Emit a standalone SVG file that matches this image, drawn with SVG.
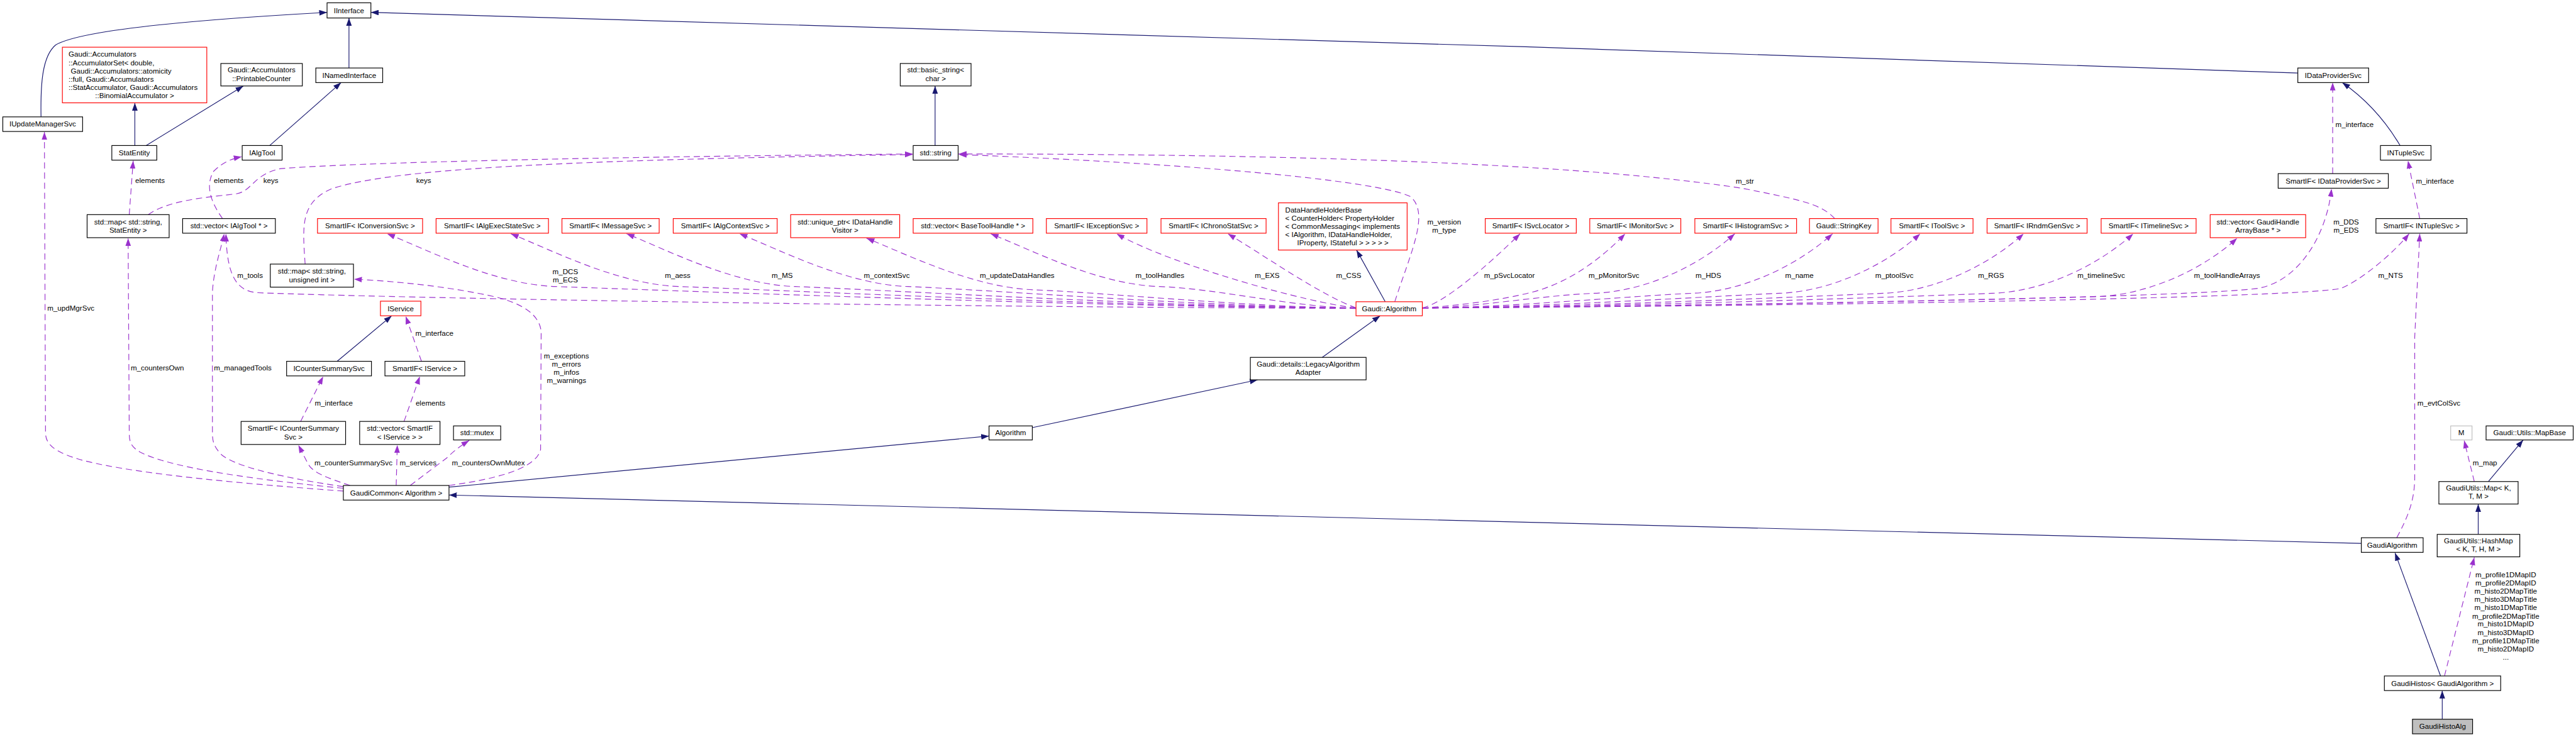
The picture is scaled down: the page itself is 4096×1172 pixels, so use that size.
<svg xmlns="http://www.w3.org/2000/svg" width="4096" height="1172" viewBox="0 0 4096 1172">
<style>
.b{fill:#fff;stroke:#000;stroke-width:1.3}
.r{fill:#fff;stroke:#f00;stroke-width:1.3}
.g{fill:#fff;stroke:#bfbfbf;stroke-width:1.3}
.f{fill:#bfbfbf;stroke:#000;stroke-width:1.3}
text{font-family:"Liberation Sans",Arial,Helvetica,sans-serif;font-size:13px;text-anchor:middle;fill:#000}
text.l{text-anchor:start}
.ih{fill:none;stroke:#191970;stroke-width:1.3;marker-end:url(#ah)}
.us{fill:none;stroke:#9a32cd;stroke-width:1.3;stroke-dasharray:11,7;marker-end:url(#au)}
</style>
<defs>
<marker id="ah" markerUnits="userSpaceOnUse" markerWidth="14" markerHeight="10" refX="14" refY="5" orient="auto" viewBox="0 0 14 10"><path d="M0,0L14,5L0,10z" fill="#191970" stroke="none"/></marker>
<marker id="au" markerUnits="userSpaceOnUse" markerWidth="14" markerHeight="10" refX="14" refY="5" orient="auto" viewBox="0 0 14 10"><path d="M0,0L14,5L0,10z" fill="#9a32cd" stroke="none"/></marker>
</defs>
<rect width="4096" height="1172" fill="#fff"/>
<g transform="scale(0.89354)">
<g id="connectors">
<path class="ih" d="M73,208 C72,150 75,100 99,80 C150,50 400,32 582,22"/>
<path class="ih" d="M240,259 L240,183"/>
<path class="ih" d="M260,259 L433,153"/>
<path class="ih" d="M480,259 L607,147"/>
<path class="ih" d="M621,121 L621,32"/>
<path class="ih" d="M4089,130 C3000,90 1500,45 660,22"/>
<path class="ih" d="M4271,259 Q4230,190 4168,147"/>
<path class="ih" d="M1664,259 L1664,153"/>
<path class="ih" d="M600,643 L697,562"/>
<path class="ih" d="M2465,537 L2414,445"/>
<path class="ih" d="M2353,636 L2456,562"/>
<path class="ih" d="M1837,761 L2238,676"/>
<path class="ih" d="M799,867 L1760,776"/>
<path class="ih" d="M4202,967 C3200,940 2000,905 799,881"/>
<path class="ih" d="M4343,1203 L4262,984"/>
<path class="ih" d="M4346,1280 L4346,1229"/>
<path class="ih" d="M4428,857 L4490,783"/>
<path class="ih" d="M4410,951 L4410,897"/>

<path class="us" d="M611,874 C450,862 250,845 150,820 C95,805 81,790 81,770 L79,235"/>
<path class="us" d="M611,869 C420,850 300,830 250,805 C232,795 230,785 230,770 L228,424"/>
<path class="us" d="M611,866 C500,850 420,830 395,810 C380,795 378,785 378,770 L378,520 C380,480 394,440 399,416"/>
<path class="us" d="M230,382 L237,286"/>
<path class="us" d="M396,389 C375,360 365,330 380,305 C395,290 410,283 430,279"/>
<path class="us" d="M264,382 C300,355 380,350 420,345 C450,340 450,310 500,300 C700,285 1300,277 1624,274"/>
<path class="us" d="M543,470 C538,400 535,360 590,336 C700,300 1000,285 1624,275"/>
<path class="us" d="M2482,537 C2510,450 2545,380 2510,350 C2450,320 2100,290 1706,275"/>
<path class="us" d="M3265,389 C3240,362 3200,355 3100,335 C2800,290 2300,274 1706,274"/>
<path class="us" d="M2413,549 C1500,545 700,530 460,521 C420,519 404,490 402,416"/>
<path class="us" d="M2413,548 C1986,548 1089,513 989,510 C879,506 764,446 689,416"/>
<path class="us" d="M2413,548 C2052,548 1309,513 1209,510 C1099,506 984,446 909,416"/>
<path class="us" d="M2413,548 C2114,548 1515,513 1415,510 C1305,506 1190,446 1115,416"/>
<path class="us" d="M2413,548 C2174,548 1716,513 1616,510 C1506,506 1391,446 1316,416"/>
<path class="us" d="M2413,548 C2242,548 1942,519 1842,516 C1732,512 1617,454 1542,424"/>
<path class="us" d="M2413,548 C2308,548 2163,513 2063,510 C1953,506 1838,446 1763,416"/>
<path class="us" d="M2413,548 C2330,540 2080,470 1987,416"/>
<path class="us" d="M2413,548 C2350,525 2250,455 2185,416"/>
<path class="us" d="M2531,548 C2570,540 2650,470 2705,416"/>
<path class="us" d="M2531,548 C2600,544 2680,532 2722,521 C2790,505 2850,460 2892,416"/>
<path class="us" d="M2531,548 C2623,548 2737,526 2837,522 C2937,518 3032,466 3087,416"/>
<path class="us" d="M2531,548 C2675,548 2911,526 3011,522 C3111,518 3206,466 3261,416"/>
<path class="us" d="M2531,548 C2722,548 3067,526 3167,522 C3267,518 3362,466 3417,416"/>
<path class="us" d="M2531,548 C2777,548 3251,526 3351,522 C3451,518 3546,466 3601,416"/>
<path class="us" d="M2531,548 C2836,548 3446,526 3546,522 C3646,518 3741,466 3796,416"/>
<path class="us" d="M2531,548 C2891,548 3631,531 3731,528 C3831,524 3926,474 3981,424"/>
<path class="us" d="M2531,548 C3000,545 3900,530 4019,513 C4090,500 4140,420 4149,336"/>
<path class="us" d="M2531,548 C3200,545 4100,530 4166,513 C4200,500 4260,450 4287,416"/>
<path class="us" d="M4151,309 L4151,147"/>
<path class="us" d="M4306,389 L4285,286"/>
<path class="us" d="M4265,957 C4285,920 4297,890 4297,850 L4297,600 L4306,416"/>
<path class="us" d="M4403,857 L4385,784"/>
<path class="us" d="M4350,1203 L4403,992"/>
<path class="us" d="M750,643 L722,563"/>
<path class="us" d="M719,750 L747,670"/>
<path class="us" d="M623,864 C580,850 555,840 548,825 C540,810 535,800 531,792"/>
<path class="us" d="M705,864 L707,792"/>
<path class="us" d="M730,864 C755,845 775,830 795,815 C810,800 825,790 835,784"/>
<path class="us" d="M535,750 L575,670"/>
<path class="us" d="M799,864 C900,850 955,830 962,800 L963,590 C960,560 930,540 880,528 C800,510 700,500 630,497"/>

<text x="126" y="553">m_updMgrSvc</text>
<text x="280" y="659">m_countersOwn</text>
<text x="432" y="659">m_managedTools</text>
<text x="267" y="326">elements</text>
<text x="407" y="326">elements</text>
<text x="482" y="326">keys</text>
<text x="754" y="326">keys</text>
<text x="445" y="495">m_tools</text>
<text x="1006" y="488">m_DCS</text>
<text x="1006" y="502">m_ECS</text>
<text x="1206" y="495">m_aess</text>
<text x="1392" y="495">m_MS</text>
<text x="1578" y="495">m_contextSvc</text>
<text x="1810" y="495">m_updateDataHandles</text>
<text x="2064" y="495">m_toolHandles</text>
<text x="2255" y="495">m_EXS</text>
<text x="2400" y="495">m_CSS</text>
<text x="2570" y="400">m_version</text>
<text x="2570" y="414">m_type</text>
<text x="2686" y="495">m_pSvcLocator</text>
<text x="2872" y="495">m_pMonitorSvc</text>
<text x="3040" y="495">m_HDS</text>
<text x="3202" y="495">m_name</text>
<text x="3371" y="495">m_ptoolSvc</text>
<text x="3543" y="495">m_RGS</text>
<text x="3739" y="495">m_timelineSvc</text>
<text x="3963" y="495">m_toolHandleArrays</text>
<text x="4175" y="400">m_DDS</text>
<text x="4175" y="414">m_EDS</text>
<text x="4254" y="495">m_NTS</text>
<text x="3105" y="327">m_str</text>
<text x="4190" y="226">m_interface</text>
<text x="4333" y="327">m_interface</text>
<text x="4340" y="722">m_evtColSvc</text>
<text x="4422" y="828">m_map</text>
<text x="4459" y="1027">m_profile1DMapID</text>
<text x="4459" y="1042">m_profile2DMapID</text>
<text x="4459" y="1057">m_histo2DMapTitle</text>
<text x="4459" y="1071">m_histo3DMapTitle</text>
<text x="4459" y="1086">m_histo1DMapTitle</text>
<text x="4459" y="1101">m_profile2DMapTitle</text>
<text x="4459" y="1115">m_histo1DMapID</text>
<text x="4459" y="1130">m_histo3DMapID</text>
<text x="4459" y="1145">m_profile1DMapTitle</text>
<text x="4459" y="1159">m_histo2DMapID</text>
<text x="4459" y="1174">...</text>
<text x="773" y="598">m_interface</text>
<text x="1008" y="638">m_exceptions</text>
<text x="1008" y="652">m_errors</text>
<text x="1008" y="667">m_infos</text>
<text x="1008" y="682">m_warnings</text>
<text x="629" y="828">m_counterSummarySvc</text>
<text x="744" y="828">m_services</text>
<text x="869" y="828">m_countersOwnMutex</text>
<text x="594" y="722">m_interface</text>
<text x="766" y="722">elements</text>
</g>

<g id="IInterface"><rect class="b" x="582" y="5" width="78" height="27"/><text x="621" y="23">IInterface</text></g>
<g id="IUpdateManagerSvc"><rect class="b" x="5" y="208" width="142" height="26"/><text x="76" y="225.5">IUpdateManagerSvc</text></g>
<g id="AccumulatorSet"><rect class="r" x="111" y="84" width="257" height="99"/>
<text class="l" x="122" y="101">Gaudi::Accumulators</text>
<text class="l" x="122" y="116">::AccumulatorSet&lt; double,</text>
<text class="l" x="126" y="131"> Gaudi::Accumulators::atomicity</text>
<text class="l" x="122" y="145">::full, Gaudi::Accumulators</text>
<text class="l" x="122" y="160">::StatAccumulator, Gaudi::Accumulators</text>
<text x="239.5" y="175">::BinomialAccumulator &gt;</text></g>
<g id="PrintableCounter"><rect class="b" x="393" y="113" width="145" height="40"/><text x="465.5" y="129">Gaudi::Accumulators</text><text x="465.5" y="144">::PrintableCounter</text></g>
<g id="INamedInterface"><rect class="b" x="562" y="121" width="119" height="26"/><text x="621.5" y="138.5">INamedInterface</text></g>
<g id="StatEntity"><rect class="b" x="199" y="259" width="80" height="26"/><text x="239" y="276.5">StatEntity</text></g>
<g id="IAlgTool"><rect class="b" x="431" y="259" width="71" height="26"/><text x="466.5" y="276.5">IAlgTool</text></g>
<g id="MapStatEntity"><rect class="b" x="155" y="382" width="146" height="41"/><text x="228" y="399">std::map&lt; std::string,</text><text x="228" y="414">StatEntity &gt;</text></g>
<g id="VectorIAlgTool"><rect class="b" x="325" y="389" width="165" height="26"/><text x="407.5" y="406.5">std::vector&lt; IAlgTool * &gt;</text></g>
<g id="SmartIFIConversionSvc"><rect class="r" x="565" y="389" width="187" height="26"/><text x="658.5" y="406.5">SmartIF&lt; IConversionSvc &gt;</text></g>
<g id="SmartIFIAlgExecStateSvc"><rect class="r" x="776" y="389" width="200" height="26"/><text x="876" y="406.5">SmartIF&lt; IAlgExecStateSvc &gt;</text></g>
<g id="SmartIFIMessageSvc"><rect class="r" x="1000" y="389" width="173" height="26"/><text x="1086.5" y="406.5">SmartIF&lt; IMessageSvc &gt;</text></g>
<g id="MapUnsigned"><rect class="b" x="481" y="470" width="148" height="41"/><text x="555" y="487">std::map&lt; std::string,</text><text x="555" y="502">unsigned int &gt;</text></g>
<g id="IService"><rect class="r" x="677" y="536" width="72" height="26"/><text x="713" y="553.5">IService</text></g>
<g id="ICounterSummarySvc"><rect class="b" x="510" y="643" width="151" height="26"/><text x="585.5" y="660.5">ICounterSummarySvc</text></g>
<g id="SmartIFIService"><rect class="b" x="685" y="643" width="142" height="26"/><text x="756" y="660.5">SmartIF&lt; IService &gt;</text></g>
<g id="SmartIFICounterSummarySvc"><rect class="b" x="429" y="750" width="186" height="41"/><text x="522" y="767">SmartIF&lt; ICounterSummary</text><text x="522" y="782">Svc &gt;</text></g>
<g id="VectorSmartIFIService"><rect class="b" x="640" y="750" width="143" height="41"/><text x="711.5" y="767">std::vector&lt; SmartIF</text><text x="711.5" y="782">&lt; IService &gt; &gt;</text></g>
<g id="StdMutex"><rect class="b" x="807" y="758" width="84" height="25"/><text x="849" y="775">std::mutex</text></g>
<g id="GaudiCommonAlgorithm"><rect class="b" x="611" y="864" width="188" height="26"/><text x="705" y="881.5">GaudiCommon&lt; Algorithm &gt;</text></g>
<g id="Algorithm"><rect class="b" x="1760" y="758" width="77" height="25"/><text x="1798.5" y="775">Algorithm</text></g>
<g id="LegacyAlgorithmAdapter"><rect class="b" x="2225" y="636" width="206" height="40"/><text x="2328" y="652">Gaudi::details::LegacyAlgorithm</text><text x="2328" y="667">Adapter</text></g>
<g id="BasicString"><rect class="b" x="1602" y="113" width="126" height="40"/><text x="1665" y="129">std::basic_string&lt;</text><text x="1665" y="144">char &gt;</text></g>
<g id="StdString"><rect class="b" x="1625" y="259" width="80" height="26"/><text x="1665" y="276.5">std::string</text></g>
<g id="SmartIFIAlgContextSvc"><rect class="r" x="1198" y="389" width="185" height="26"/><text x="1290.5" y="406.5">SmartIF&lt; IAlgContextSvc &gt;</text></g>
<g id="UniquePtrVisitor"><rect class="r" x="1407" y="382" width="194" height="41"/><text x="1504" y="399">std::unique_ptr&lt; IDataHandle</text><text x="1504" y="414">Visitor &gt;</text></g>
<g id="VectorBaseToolHandle"><rect class="r" x="1625" y="389" width="213" height="26"/><text x="1731.5" y="406.5">std::vector&lt; BaseToolHandle * &gt;</text></g>
<g id="SmartIFIExceptionSvc"><rect class="r" x="1862" y="389" width="179" height="26"/><text x="1951.5" y="406.5">SmartIF&lt; IExceptionSvc &gt;</text></g>
<g id="SmartIFIChronoStatSvc"><rect class="r" x="2066" y="389" width="187" height="26"/><text x="2159.5" y="406.5">SmartIF&lt; IChronoStatSvc &gt;</text></g>
<g id="DataHandleHolderBase"><rect class="r" x="2275" y="361" width="229" height="84"/>
<text class="l" x="2287" y="378">DataHandleHolderBase</text>
<text class="l" x="2287" y="393">&lt; CounterHolder&lt; PropertyHolder</text>
<text class="l" x="2287" y="407.5">&lt; CommonMessaging&lt; implements</text>
<text class="l" x="2287" y="422">&lt; IAlgorithm, IDataHandleHolder,</text>
<text x="2389.5" y="437">IProperty, IStateful &gt; &gt; &gt; &gt; &gt;</text></g>
<g id="GaudiAlgorithmBase"><rect class="r" x="2413" y="537" width="118" height="25"/><text x="2472" y="554">Gaudi::Algorithm</text></g>
<g id="SmartIFISvcLocator"><rect class="r" x="2643" y="389" width="162" height="26"/><text x="2724" y="406.5">SmartIF&lt; ISvcLocator &gt;</text></g>
<g id="SmartIFIMonitorSvc"><rect class="r" x="2829" y="389" width="162" height="26"/><text x="2910" y="406.5">SmartIF&lt; IMonitorSvc &gt;</text></g>
<g id="SmartIFIHistogramSvc"><rect class="r" x="3016" y="389" width="181" height="26"/><text x="3106.5" y="406.5">SmartIF&lt; IHistogramSvc &gt;</text></g>
<g id="StringKey"><rect class="r" x="3220" y="389" width="122" height="26"/><text x="3281" y="406.5">Gaudi::StringKey</text></g>
<g id="SmartIFIToolSvc"><rect class="r" x="3365" y="389" width="146" height="26"/><text x="3438" y="406.5">SmartIF&lt; IToolSvc &gt;</text></g>
<g id="SmartIFIRndmGenSvc"><rect class="r" x="3536" y="389" width="178" height="26"/><text x="3625" y="406.5">SmartIF&lt; IRndmGenSvc &gt;</text></g>
<g id="SmartIFITimelineSvc"><rect class="r" x="3739" y="389" width="169" height="26"/><text x="3823.5" y="406.5">SmartIF&lt; ITimelineSvc &gt;</text></g>
<g id="VectorGaudiHandleArrayBase"><rect class="r" x="3933" y="382" width="170" height="41"/><text x="4018" y="399">std::vector&lt; GaudiHandle</text><text x="4018" y="414">ArrayBase * &gt;</text></g>
<g id="IDataProviderSvc"><rect class="b" x="4089" y="121" width="126" height="26"/><text x="4152" y="138.5">IDataProviderSvc</text></g>
<g id="INTupleSvc"><rect class="b" x="4236" y="259" width="90" height="26"/><text x="4281" y="276.5">INTupleSvc</text></g>
<g id="SmartIFIDataProviderSvc"><rect class="b" x="4054" y="309" width="196" height="26"/><text x="4152" y="326.5">SmartIF&lt; IDataProviderSvc &gt;</text></g>
<g id="SmartIFINTupleSvc"><rect class="b" x="4228" y="389" width="162" height="26"/><text x="4309" y="406.5">SmartIF&lt; INTupleSvc &gt;</text></g>
<g id="M"><rect class="g" x="4361" y="758" width="38" height="25"/><text x="4380" y="775">M</text></g>
<g id="MapBase"><rect class="b" x="4424" y="758" width="155" height="25"/><text x="4501.5" y="775">Gaudi::Utils::MapBase</text></g>
<g id="GaudiUtilsMap"><rect class="b" x="4340" y="857" width="141" height="40"/><text x="4410.5" y="873">GaudiUtils::Map&lt; K,</text><text x="4410.5" y="888">T, M &gt;</text></g>
<g id="GaudiUtilsHashMap"><rect class="b" x="4337" y="951" width="147" height="40"/><text x="4410.5" y="967">GaudiUtils::HashMap</text><text x="4410.5" y="982">&lt; K, T, H, M &gt;</text></g>
<g id="GaudiAlgorithm"><rect class="b" x="4202" y="957" width="110" height="26"/><text x="4257" y="974.5">GaudiAlgorithm</text></g>
<g id="GaudiHistos"><rect class="b" x="4243" y="1203" width="207" height="26"/><text x="4346.5" y="1220.5">GaudiHistos&lt; GaudiAlgorithm &gt;</text></g>
<g id="GaudiHistoAlg"><rect class="f" x="4293" y="1280" width="107" height="26"/><text x="4346.5" y="1297.5">GaudiHistoAlg</text></g>
</g>
</svg>
